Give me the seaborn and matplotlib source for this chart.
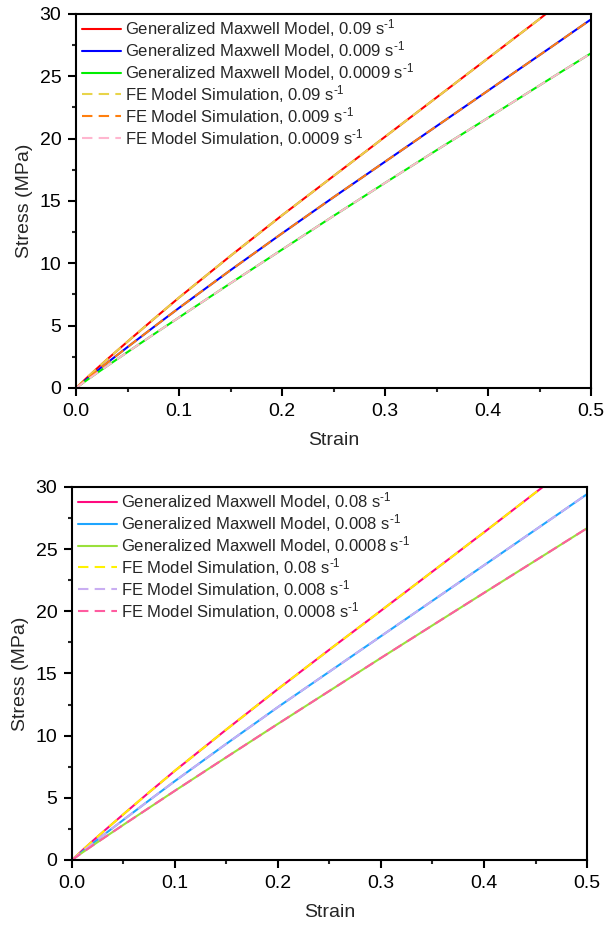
import matplotlib
matplotlib.use("Agg")
import matplotlib.pyplot as plt
from matplotlib.ticker import MultipleLocator, FormatStrFormatter
import pandas as pd
import seaborn as sns

# Strain sample points shared by all curves
strain = [0.0, 0.01, 0.02, 0.03, 0.05, 0.075, 0.10, 0.15, 0.20, 0.25,
          0.30, 0.35, 0.40, 0.45, 0.46, 0.50]

# Panel A: strain rates 0.09 / 0.009 / 0.0009 s^-1 (stress in MPa)
gm_009 = [0.0, 0.78, 1.54, 2.28, 3.72, 5.5, 7.25, 10.6, 13.85, 17.0,
          20.15, 23.3, 26.45, 29.6, 30.25, 32.8]
gm_0009 = [0.0, 0.68, 1.34, 2.0, 3.28, 4.86, 6.42, 9.45, 12.4, 15.3,
           18.15, 21.0, 23.85, 26.7, 27.27, 29.57]
gm_00009 = [0.0, 0.6, 1.18, 1.75, 2.88, 4.28, 5.66, 8.4, 11.1, 13.8,
            16.45, 19.07, 21.67, 24.27, 24.79, 26.85]
fe_009 = gm_009
fe_0009 = gm_0009
fe_00009 = gm_00009

# Panel B: strain rates 0.08 / 0.008 / 0.0008 s^-1 (stress in MPa)
gm_008 = [0.0, 0.77, 1.52, 2.25, 3.68, 5.45, 7.18, 10.5, 13.75, 16.92,
          20.05, 23.2, 26.35, 29.55, 30.18, 32.7]
gm_0008 = [0.0, 0.67, 1.32, 1.97, 3.23, 4.8, 6.35, 9.35, 12.3, 15.15,
           18.0, 20.85, 23.7, 26.56, 27.13, 29.42]
gm_00008 = [0.0, 0.59, 1.16, 1.72, 2.83, 4.2, 5.57, 8.27, 10.95, 13.6,
            16.25, 18.87, 21.48, 24.08, 24.6, 26.68]
fe_008 = gm_008
fe_0008 = gm_0008
fe_00008 = gm_00008

unit = "s$^{\u20101}$"
labels_a = [f"Generalized Maxwell Model, 0.09 {unit}",
            f"Generalized Maxwell Model, 0.009 {unit}",
            f"Generalized Maxwell Model, 0.0009 {unit}",
            f"FE Model Simulation, 0.09 {unit}",
            f"FE Model Simulation, 0.009 {unit}",
            f"FE Model Simulation, 0.0009 {unit}"]
labels_b = [f"Generalized Maxwell Model, 0.08 {unit}",
            f"Generalized Maxwell Model, 0.008 {unit}",
            f"Generalized Maxwell Model, 0.0008 {unit}",
            f"FE Model Simulation, 0.08 {unit}",
            f"FE Model Simulation, 0.008 {unit}",
            f"FE Model Simulation, 0.0008 {unit}"]

colors_a = ["#FF0000", "#0000FF", "#00EE00", "#E8D44A", "#FF7F0E", "#FFB6CF"]
colors_b = ["#FF0A7F", "#1EA5FF", "#9AE03C", "#FFF200", "#C9AEF2", "#FF5CA0"]

sns.set_style("ticks")
plt.rcParams["font.family"] = ["Liberation Sans", "DejaVu Sans"]
plt.rcParams["mathtext.fontset"] = "custom"
plt.rcParams["mathtext.rm"] = "Liberation Sans"
plt.rcParams["mathtext.it"] = "Liberation Sans:italic"
plt.rcParams["mathtext.bf"] = "Liberation Sans:bold"

fig = plt.figure(figsize=(6.10, 9.32), dpi=100)
ax_a = fig.add_axes([0.1246, 0.5837, 0.8443, 0.4013])
ax_b = fig.add_axes([0.1180, 0.0773, 0.8443, 0.4002])

dash = (0, (5, 3))


def draw_panel(ax, series, labels, colors):
    for i, (vals, lab, col) in enumerate(zip(series, labels, colors)):
        df = pd.DataFrame({"Strain": strain, "Stress": vals})
        kw = dict(linestyle=dash) if i >= 3 else {}
        sns.lineplot(data=df, x="Strain", y="Stress", ax=ax, color=col,
                     label=lab, linewidth=1.5, sort=False, estimator=None,
                     **kw)
    ax.set_xlim(0, 0.5)
    ax.set_ylim(0, 30)
    ax.xaxis.set_major_locator(MultipleLocator(0.1))
    ax.xaxis.set_minor_locator(MultipleLocator(0.05))
    ax.xaxis.set_major_formatter(FormatStrFormatter("%.1f"))
    ax.yaxis.set_major_locator(MultipleLocator(5))
    ax.yaxis.set_minor_locator(MultipleLocator(2.5))
    ax.tick_params(which="major", direction="out", length=6, width=1.5,
                   labelsize=14, colors="black", pad=4.5)
    ax.tick_params(which="minor", direction="out", length=3, width=1.5)
    for sp in ax.spines.values():
        sp.set_linewidth(1.5)
        sp.set_color("black")
        sp.set_visible(True)
    ax.set_xlabel("Strain", fontsize=14, labelpad=9)
    ax.set_ylabel("Stress (MPa)", fontsize=14, labelpad=5)
    ax.legend(loc="upper left", bbox_to_anchor=(0.006, 1.0), frameon=False,
              fontsize=12, handlelength=2.3, handletextpad=0.25,
              labelspacing=0.0, borderaxespad=0.15, borderpad=0.05)


draw_panel(ax_a, [gm_009, gm_0009, gm_00009, fe_009, fe_0009, fe_00009],
           labels_a, colors_a)
draw_panel(ax_b, [gm_008, gm_0008, gm_00008, fe_008, fe_0008, fe_00008],
           labels_b, colors_b)

fig.savefig("out.png", dpi=100)
